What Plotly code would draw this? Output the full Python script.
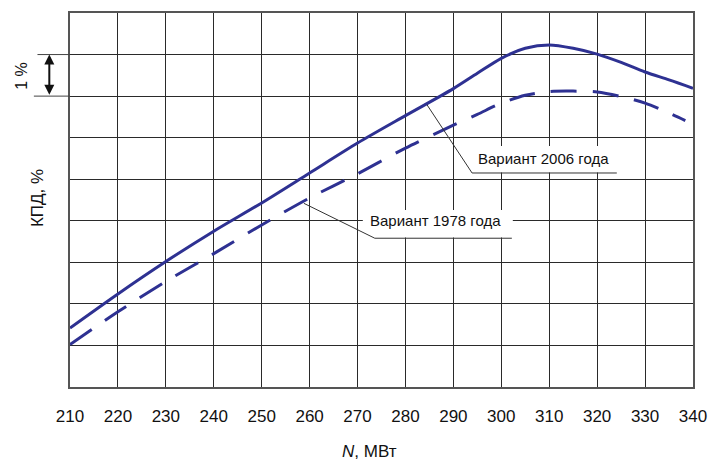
import plotly.graph_objects as go

# ---- data ----
x_2006 = [210, 220, 230, 240, 250, 260, 270, 280, 290, 295, 300, 305, 310, 315, 320, 325, 330, 335, 340]
y_2006 = [1.42, 2.24, 3.02, 3.75, 4.43, 5.15, 5.87, 6.53, 7.18, 7.55, 7.91, 8.15, 8.23, 8.15, 8.01, 7.81, 7.58, 7.39, 7.19]

x_1978 = [210, 220, 230, 240, 250, 260, 270, 280, 290, 295, 300, 305, 310, 315, 320, 325, 330, 335, 338.4]
y_1978 = [1.02, 1.81, 2.54, 3.21, 3.90, 4.55, 5.13, 5.75, 6.30, 6.56, 6.83, 7.02, 7.11, 7.12, 7.10, 6.99, 6.83, 6.59, 6.41]

x_ticks = list(range(210, 341, 10))
x_tick_labels = [str(v) for v in x_ticks]

label_2006 = "Вариант 2006 года"
label_1978 = "Вариант 1978 года"

LINE_COLOR = "#2e3192"
GRID = "#2a2a2a"
FONT = "Liberation Sans, Arial, sans-serif"

fig = go.Figure()
fig.add_trace(go.Scatter(x=x_2006, y=y_2006, mode="lines",
                         line=dict(color=LINE_COLOR, width=3, shape="spline", smoothing=0.8),
                         showlegend=False, hoverinfo="skip"))
fig.add_trace(go.Scatter(x=x_1978, y=y_1978, mode="lines",
                         line=dict(color=LINE_COLOR, width=3, shape="spline", smoothing=0.8,
                                   dash="26px,16px"),
                         showlegend=False, hoverinfo="skip"))

shapes = [
    # white boxes behind the labels (hide grid)
    dict(type="rect", xref="x", yref="y", x0=293.3, x1=324.2, y0=5.16, y1=5.80,
         fillcolor="white", line=dict(width=0), layer="between"),
    dict(type="rect", xref="x", yref="y", x0=271.1, x1=302.4, y0=3.60, y1=4.26,
         fillcolor="white", line=dict(width=0), layer="between"),
    # leader lines 2006
    dict(type="line", xref="x", yref="y", x0=284.5, y0=6.79, x1=293.9, y1=5.15,
         line=dict(color="#333", width=1)),
    dict(type="line", xref="x", yref="y", x0=293.9, y0=5.15, x1=324.1, y1=5.15,
         line=dict(color="#333", width=1)),
    # leader lines 1978
    dict(type="line", xref="x", yref="y", x0=258.8, y0=4.42, x1=273.6, y1=3.58,
         line=dict(color="#333", width=1)),
    dict(type="line", xref="x", yref="y", x0=273.6, y0=3.58, x1=302.2, y1=3.58,
         line=dict(color="#333", width=1)),
    # 1 % scale marks
    dict(type="line", xref="paper", yref="y", x0=-0.0522, x1=0, y0=8, y1=8,
         line=dict(color="#444", width=1)),
    dict(type="line", xref="paper", yref="y", x0=-0.058, x1=0, y0=7, y1=7,
         line=dict(color="#444", width=1)),
]

annotations = [
    dict(text=label_2006, xref="x", yref="y", x=308.9, y=5.49, showarrow=False,
         xanchor="center", yanchor="middle",
         font=dict(family=FONT, size=15, color="#111")),
    dict(text=label_1978, xref="x", yref="y", x=286.3, y=4.0, showarrow=False,
         xanchor="center", yanchor="middle",
         font=dict(family=FONT, size=15, color="#111")),
    dict(text="КПД, %", xref="paper", yref="paper", x=-0.053, y=0.505, textangle=-90,
         xanchor="center", yanchor="middle",
         showarrow=False, font=dict(family=FONT, size=17, color="#111")),
    dict(text="1 %", xref="paper", yref="y", x=-0.078, y=7.5, textangle=-90,
         xanchor="center", yanchor="middle",
         showarrow=False, font=dict(family=FONT, size=16, color="#111")),
    dict(text="<i>N</i>, МВт", xref="paper", yref="paper", x=0.481, y=-0.172,
         xanchor="center", yanchor="middle",
         showarrow=False, font=dict(family=FONT, size=17, color="#111")),
    # double arrow for 1 %
    dict(text="", xref="paper", yref="y", x=-0.0332, y=8, ax=0, ay=41.6,
         axref="pixel", ayref="pixel", showarrow=True, arrowhead=2, arrowsize=1,
         arrowwidth=2, arrowside="end+start", arrowcolor="#111", standoff=0, startstandoff=0),
]

fig.update_layout(
    width=709, height=461,
    margin=dict(l=70, r=16, t=13, b=74, autoexpand=False),
    paper_bgcolor="white", plot_bgcolor="white",
    font=dict(family=FONT, size=17, color="#111"),
    shapes=shapes, annotations=annotations,
    showlegend=False,
)
fig.update_xaxes(range=[210, 340], tickvals=x_ticks, ticktext=x_tick_labels,
                 showgrid=True, gridcolor=GRID, gridwidth=1.3, automargin=False,
                 showline=True, mirror=True, linecolor="#555", linewidth=1.5,
                 ticks="", ticklabelstandoff=13, zeroline=False,
                 tickfont=dict(family=FONT, size=17, color="#111"))
fig.update_yaxes(range=[0, 9], dtick=1, tick0=0, showticklabels=False, automargin=False,
                 showgrid=True, gridcolor=GRID, gridwidth=1.3,
                 showline=True, mirror=True, linecolor="#555", linewidth=1.5,
                 ticks="", zeroline=False)

fig.write_html(
    "out.html",
    config={"displayModeBar": False},
    post_script="document.body.style.margin='0';document.body.style.overflow='hidden';",
)
